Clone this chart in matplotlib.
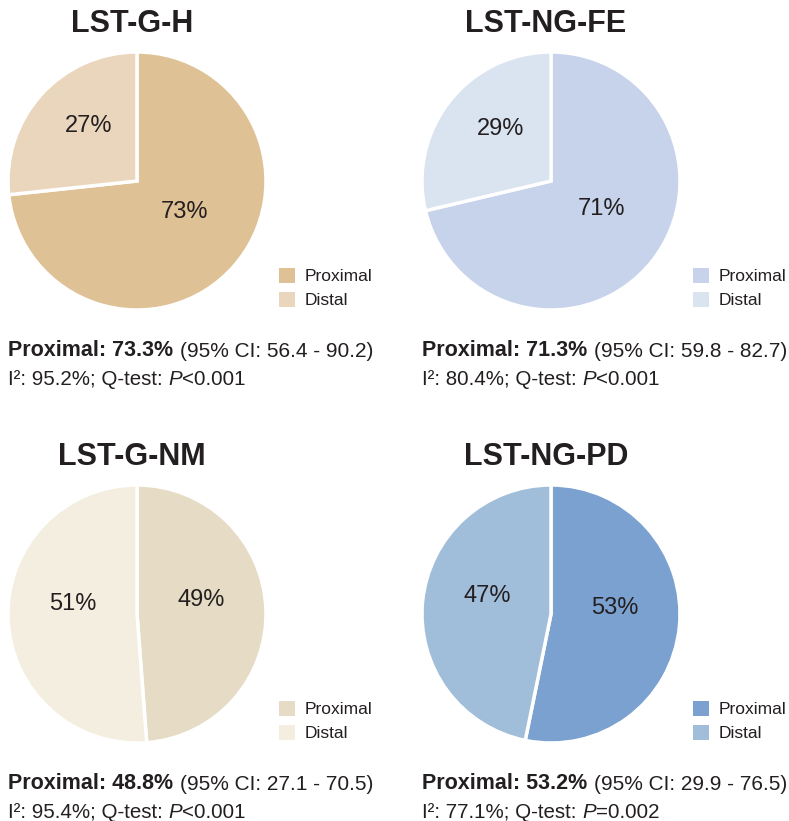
import matplotlib
matplotlib.use("Agg")
import matplotlib.pyplot as plt
import matplotlib.patches as mpatches
import matplotlib.transforms as mtransforms
from matplotlib import font_manager
import numpy as np

# ---------------- data ----------------
titles = ["LST-G-H", "LST-NG-FE", "LST-G-NM", "LST-NG-PD"]
labels = ["Proximal", "Distal"]
proximal = [73.3, 71.3, 48.8, 53.2]
distal = [26.7, 28.7, 51.2, 46.8]
ci_low = [56.4, 59.8, 27.1, 29.9]
ci_high = [90.2, 82.7, 70.5, 76.5]
i2 = [95.2, 80.4, 95.4, 77.1]
p_text = ["<0.001", "<0.001", "<0.001", "=0.002"]
colors = [
    ["#DFC196", "#E9D6BC"],
    ["#C6D3EA", "#DAE3F0"],
    ["#E6DCC5", "#F3EEDF"],
    ["#7BA1D0", "#A0BDD9"],
]

# ---------------- layout ----------------
W, H = 789, 821
DPI = 100
TXT = "#231F20"
available = {f.name for f in font_manager.fontManager.ttflist}
BODY = "Liberation Sans" if "Liberation Sans" in available else "DejaVu Sans"
TITLE_FONT = "Liberation Sans Narrow" if "Liberation Sans Narrow" in available else BODY

fig = plt.figure(figsize=(W / DPI, H / DPI), dpi=DPI)

centers = [(137, 181), (551, 181), (137, 614), (551, 614)]
R = 129


def fx(x):
    return x / W


def fy(y):
    return 1 - y / H


def rich_line(x, y_bottom, segments):
    """segments: list of (text, size, weight, style, lead_space_pt)"""
    last = None
    for text, size, weight, style, lead in segments:
        kw = dict(fontsize=size, fontweight=weight, fontstyle=style,
                  family=[BODY, "DejaVu Sans"], color=TXT, va="bottom", ha="left")
        if last is None:
            last = fig.text(fx(x), fy(y_bottom), text, **kw)
        else:
            ann = matplotlib.text.Annotation(
                text, xy=(1, 0), xycoords=last, xytext=(lead, 0),
                textcoords="offset points", **kw)
            fig.add_artist(ann)
            last = ann


for i in range(4):
    cx, cy = centers[i]
    ax = fig.add_axes([fx(cx - R - 2), fy(cy + R + 2), (2 * R + 4) / W, (2 * R + 4) / H])
    wedges, texts, autotexts = ax.pie(
        [proximal[i], distal[i]], colors=colors[i], startangle=90, counterclock=False,
        autopct="%.0f%%", pctdistance=0.5,
        wedgeprops=dict(edgecolor="white", linewidth=2.5),
        textprops=dict(fontsize=17, color=TXT, family=[BODY, "DejaVu Sans"]))
    shift = mtransforms.ScaledTranslation(0, 12 / DPI, fig.dpi_scale_trans)
    for t in autotexts:
        t.set_transform(t.get_transform() + shift)
    lim = 1 + 2 / R
    ax.set_xlim(-lim, lim)
    ax.set_ylim(-lim, lim)
    ax.set_aspect("equal")
    ax.axis("off")

    # title
    fig.text(fx(cx - 5), fy(cy - 149), titles[i], fontsize=22, fontweight="bold",
             family=[TITLE_FONT, "DejaVu Sans"], color=TXT, ha="center", va="baseline")

    # legend
    handles = [mpatches.Patch(facecolor=c, edgecolor="none") for c in colors[i]]
    ax.legend(handles, labels, loc="center left",
              bbox_to_anchor=(fx(cx + 142), fy(cy + 107)), bbox_transform=fig.transFigure,
              frameon=False, borderpad=0, borderaxespad=0, handlelength=0.95,
              handleheight=0.95, handletextpad=0.5, labelspacing=0.42,
              prop=dict(family=BODY, size=12.5), labelcolor=TXT)

    # caption
    x0 = cx - 129
    rich_line(x0, cy + 180, [
        (f"Proximal: {proximal[i]:.1f}%", 15.5, "bold", "normal", 0),
        (f"(95% CI: {ci_low[i]:.1f} - {ci_high[i]:.1f})", 15.0, "normal", "normal", 4.8),
    ])
    rich_line(x0, cy + 208, [
        (f"I²: {i2[i]:.1f}%; Q-test:", 14.8, "normal", "normal", 0),
        ("P", 14.8, "normal", "italic", 4.1),
        (p_text[i], 14.8, "normal", "normal", 0),
    ])

fig.savefig("out.png", dpi=DPI)
